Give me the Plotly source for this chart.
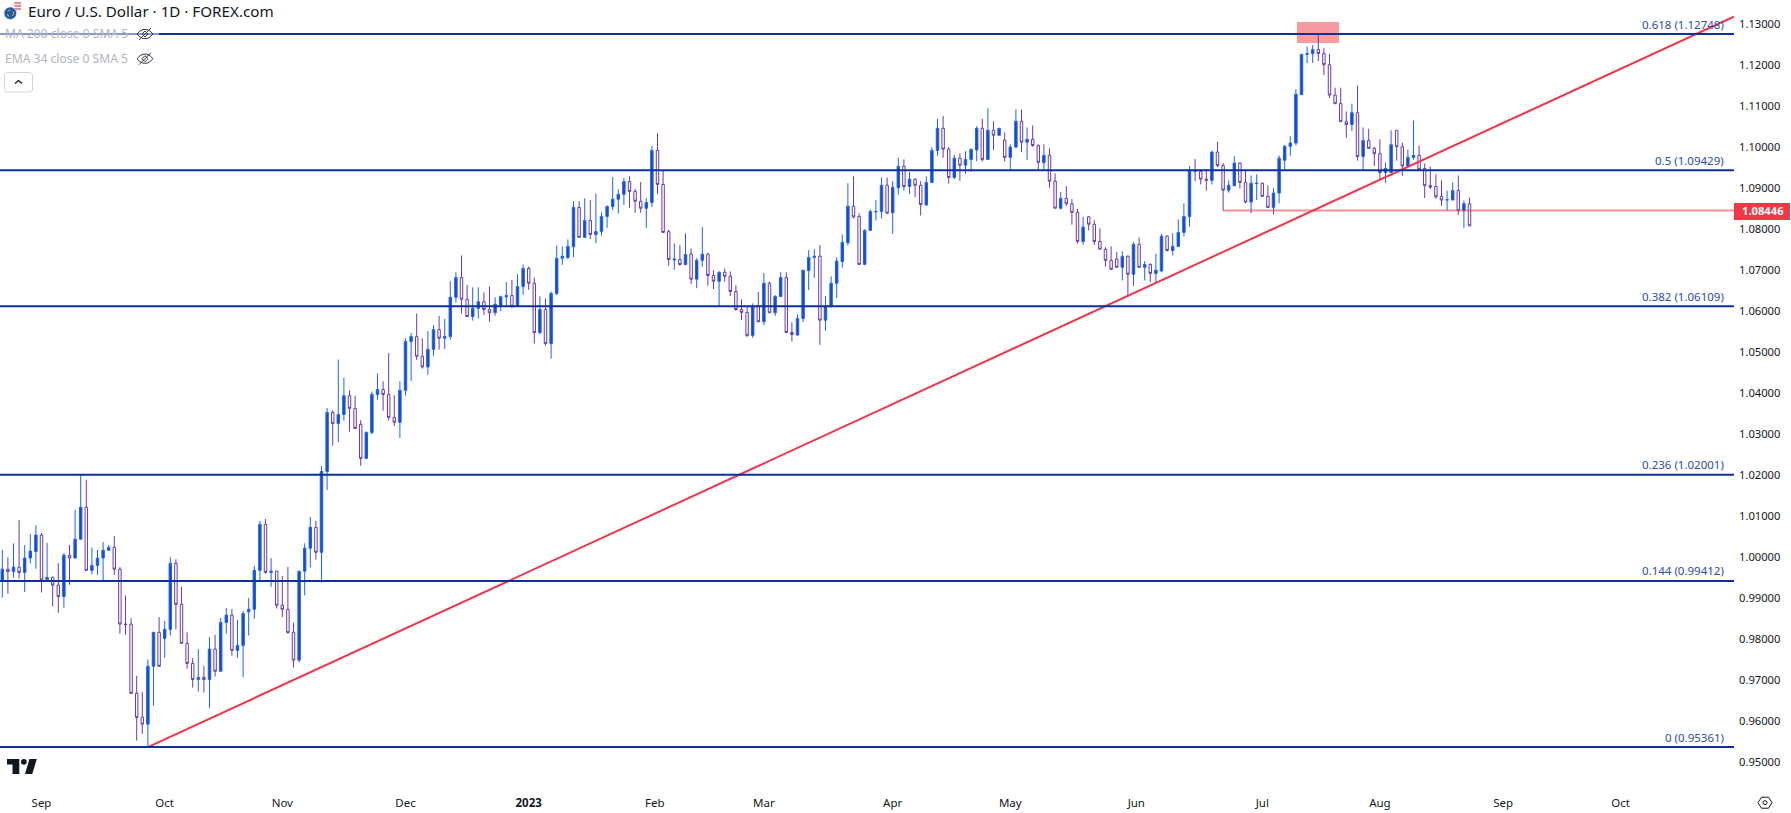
import plotly.graph_objects as go

W, H = 1791, 813
PLOT_RIGHT, PLOT_BOTTOM = 1734, 783

open_ = [
 0.9941,0.9970,0.9964,0.9975,0.9962,0.9997,1.0013,1.0053,0.9944,0.9950,
 0.9931,0.9903,1.0004,0.9997,1.0043,1.0121,0.9967,0.9979,0.9997,1.0016,
 1.0023,0.9970,0.9836,0.9836,0.9667,0.9609,0.9592,0.9733,0.9816,0.9801,
 0.9823,0.9984,0.9884,0.9789,0.9740,0.9701,0.9706,0.9701,0.9775,0.9721,
 0.9840,0.9858,0.9772,0.9784,0.9866,0.9872,0.9967,1.0079,0.9962,0.9965,
 0.9882,0.9872,0.9816,0.9748,0.9965,1.0021,1.0072,1.0011,1.0208,1.0352,
 1.0325,1.0347,1.0393,1.0362,1.0323,1.0240,1.0303,1.0396,1.0408,1.0396,
 1.0340,1.0328,1.0406,1.0525,1.0537,1.0489,1.0463,1.0506,1.0554,1.0533,
 1.0537,1.0633,1.0681,1.0628,1.0586,1.0606,1.0622,1.0603,1.0595,1.0611,
 1.0634,1.0637,1.0611,1.0659,1.0703,1.0667,1.0547,1.0603,1.0520,1.0642,
 1.0728,1.0730,1.0756,1.0852,1.0779,1.0820,1.0786,1.0793,1.0830,1.0854,
 1.0872,1.0884,1.0915,1.0891,1.0867,1.0850,1.0864,1.0991,1.0908,1.0793,
 1.0724,1.0725,1.0713,1.0738,1.0677,1.0723,1.0738,1.0686,1.0672,1.0694,
 1.0684,1.0647,1.0603,1.0596,1.0540,1.0611,1.0573,1.0667,1.0595,1.0635,
 1.0681,1.0547,1.0541,1.0581,1.0698,1.0730,1.0733,1.0577,1.0611,1.0667,
 1.0720,1.0766,1.0855,1.0830,1.0713,1.0796,1.0841,1.0842,1.0906,1.0839,
 1.0900,1.0952,1.0903,1.0921,1.0906,1.0858,1.0913,1.0991,1.1045,1.0994,
 1.0925,1.0972,1.0955,1.0969,1.0992,1.1045,1.0969,1.1040,1.1028,1.1016,
 1.0974,1.0999,1.1062,1.1011,1.1018,1.1003,1.0961,1.0979,1.0916,1.0850,
 1.0874,1.0861,1.0840,1.0769,1.0829,1.0811,1.0769,1.0750,1.0723,1.0726,
 1.0706,1.0733,1.0689,1.0762,1.0706,1.0713,1.0691,1.0697,1.0782,1.0747,
 1.0757,1.0791,1.0830,1.0943,1.0940,1.0921,1.0918,1.0987,1.0954,1.0894,
 1.0905,1.0960,1.0913,1.0865,1.0910,1.0911,1.0879,1.0852,1.0887,1.0967,
 1.1001,1.1009,1.1127,1.1225,1.1227,1.1237,1.1227,1.1200,1.1126,1.1105,
 1.1061,1.1054,1.1083,1.0976,1.1015,1.0996,1.0983,1.0937,1.0937,1.1040,
 1.1000,1.0953,1.0974,1.0979,1.0947,1.0905,1.0903,1.0879,1.0870,1.0870,1.0893,1.0844,1.0861,
]
high = [
 1.0017,0.9999,1.0033,1.0090,1.0029,1.0055,1.0077,1.0058,1.0034,0.9952,
 0.9985,1.0009,1.0029,1.0114,1.0200,1.0188,1.0023,1.0017,1.0036,1.0029,
 1.0051,0.9975,0.9906,0.9850,0.9710,0.9670,0.9750,0.9816,0.9853,0.9844,
 0.9999,0.9994,0.9927,0.9816,0.9753,0.9775,0.9734,0.9804,0.9810,0.9851,
 0.9875,0.9873,0.9846,0.9868,0.9900,0.9978,1.0087,1.0092,0.9997,0.9965,
 0.9953,0.9975,0.9839,0.9965,1.0033,1.0097,1.0088,1.0221,1.0363,1.0357,
 1.0481,1.0437,1.0406,1.0393,1.0333,1.0306,1.0403,1.0447,1.0428,1.0497,
 1.0394,1.0428,1.0533,1.0546,1.0593,1.0533,1.0550,1.0565,1.0587,1.0580,
 1.0672,1.0694,1.0735,1.0663,1.0657,1.0657,1.0645,1.0659,1.0633,1.0637,
 1.0670,1.0675,1.0689,1.0713,1.0708,1.0681,1.0635,1.0630,1.0647,1.0759,
 1.0757,1.0774,1.0867,1.0867,1.0874,1.0870,1.0886,1.0840,1.0857,1.0926,
 1.0896,1.0924,1.0928,1.0898,1.0914,1.0874,1.1002,1.1033,1.0943,1.0798,
 1.0764,1.0760,1.0789,1.0752,1.0728,1.0804,1.0742,1.0699,1.0696,1.0703,
 1.0696,1.0662,1.0628,1.0612,1.0618,1.0646,1.0692,1.0672,1.0638,1.0694,
 1.0694,1.0572,1.0591,1.0699,1.0748,1.0750,1.0760,1.0636,1.0684,1.0730,
 1.0786,1.0911,1.0928,1.0838,1.0799,1.0847,1.0870,1.0925,1.0925,1.0916,
 1.0973,1.0969,1.0938,1.0923,1.0916,1.0928,1.0999,1.1068,1.1075,1.0999,
 1.0981,1.0984,1.0989,1.0994,1.1050,1.1068,1.1094,1.1062,1.1045,1.1035,
 1.1006,1.1091,1.1091,1.1047,1.1052,1.1006,1.1006,1.0996,1.0935,1.0890,
 1.0904,1.0872,1.0848,1.0829,1.0831,1.0821,1.0801,1.0755,1.0757,1.0743,
 1.0745,1.0735,1.0767,1.0779,1.0721,1.0716,1.0739,1.0787,1.0784,1.0789,
 1.0823,1.0862,1.0953,1.0970,1.0945,1.0945,1.0990,1.1012,1.0960,1.0918,
 1.0977,1.0962,1.0943,1.0930,1.0933,1.0913,1.0906,1.0899,1.0979,1.1004,
 1.1026,1.1140,1.1227,1.1244,1.1248,1.1274,1.1240,1.1227,1.1144,1.1144,
 1.1086,1.1105,1.1149,1.1047,1.1044,1.1000,1.1018,1.0961,1.1040,1.1040,
 1.1010,1.0993,1.1064,1.1003,1.0959,1.0952,1.0933,1.0918,1.0893,1.0913,1.0930,1.0869,1.0876,
]
low = [
 0.9901,0.9910,0.9949,0.9947,0.9914,0.9984,0.9971,0.9913,0.9941,0.9879,
 0.9863,0.9876,0.9932,0.9997,1.0043,0.9967,0.9957,0.9956,0.9941,1.0016,
 0.9956,0.9813,0.9810,0.9667,0.9552,0.9568,0.9536,0.9637,0.9733,0.9754,
 0.9808,0.9823,0.9789,0.9727,0.9681,0.9671,0.9669,0.9632,0.9708,0.9721,
 0.9813,0.9759,0.9754,0.9706,0.9808,0.9849,0.9941,0.9959,0.9927,0.9874,
 0.9853,0.9813,0.9730,0.9743,0.9906,0.9974,0.9993,0.9937,1.0163,1.0271,
 1.0280,1.0332,1.0305,1.0313,1.0222,1.0240,1.0298,1.0383,1.0356,1.0332,
 1.0319,1.0290,1.0393,1.0429,1.0480,1.0459,1.0444,1.0490,1.0505,1.0507,
 1.0529,1.0620,1.0593,1.0586,1.0576,1.0581,1.0590,1.0573,1.0588,1.0599,
 1.0611,1.0607,1.0611,1.0639,1.0651,1.0520,1.0542,1.0515,1.0483,1.0638,
 1.0712,1.0726,1.0731,1.0779,1.0779,1.0775,1.0765,1.0783,1.0802,1.0845,
 1.0837,1.0858,1.0851,1.0839,1.0839,1.0802,1.0853,1.0885,1.0791,1.0710,
 1.0700,1.0710,1.0711,1.0665,1.0655,1.0707,1.0661,1.0653,1.0612,1.0671,
 1.0636,1.0600,1.0577,1.0536,1.0534,1.0573,1.0565,1.0595,1.0587,1.0633,
 1.0547,1.0525,1.0539,1.0572,1.0650,1.0680,1.0517,1.0551,1.0608,1.0631,
 1.0705,1.0759,1.0825,1.0713,1.0713,1.0796,1.0820,1.0825,1.0836,1.0788,
 1.0883,1.0893,1.0885,1.0877,1.0832,1.0856,1.0912,1.0978,1.0973,1.0910,
 1.0921,1.0917,1.0934,1.0939,1.0965,1.0964,1.0969,1.0992,1.1027,1.0964,
 1.0943,1.0999,1.0987,1.0968,1.1000,1.0942,1.0943,1.0900,1.0850,1.0847,
 1.0856,1.0810,1.0764,1.0761,1.0796,1.0761,1.0750,1.0708,1.0701,1.0706,
 1.0674,1.0635,1.0661,1.0706,1.0674,1.0670,1.0667,1.0694,1.0745,1.0735,
 1.0756,1.0781,1.0805,1.0916,1.0908,1.0893,1.0908,1.0950,1.0844,1.0888,
 1.0903,1.0898,1.0862,1.0838,1.0870,1.0878,1.0851,1.0835,1.0862,1.0943,
 1.0978,1.1003,1.1127,1.1204,1.1204,1.1209,1.1175,1.1119,1.1105,1.1061,
 1.1022,1.1038,1.0966,1.0942,1.0996,1.0953,1.0918,1.0912,1.0937,1.0966,
 1.0929,1.0949,1.0968,1.0944,1.0875,1.0897,1.0873,1.0856,1.0844,1.0870,1.0834,1.0802,1.0807,
]
close = [
 0.9970,0.9964,0.9975,0.9962,0.9997,1.0014,1.0053,0.9944,0.9950,0.9931,
 0.9903,1.0004,0.9997,1.0043,1.0121,0.9967,0.9979,0.9997,1.0016,1.0023,
 0.9970,0.9836,0.9835,0.9667,0.9608,0.9592,0.9733,0.9816,0.9733,0.9823,
 0.9984,0.9884,0.9789,0.9740,0.9701,0.9706,0.9701,0.9775,0.9721,0.9840,
 0.9858,0.9772,0.9784,0.9862,0.9872,0.9967,1.0079,0.9962,0.9965,0.9882,
 0.9872,0.9815,0.9748,0.9965,1.0021,1.0072,1.0011,1.0208,1.0352,1.0325,
 1.0347,1.0393,1.0362,1.0313,1.0240,1.0303,1.0396,1.0408,1.0396,1.0340,
 1.0328,1.0406,1.0525,1.0537,1.0489,1.0463,1.0506,1.0554,1.0533,1.0537,
 1.0633,1.0681,1.0628,1.0586,1.0606,1.0622,1.0603,1.0595,1.0616,1.0634,
 1.0637,1.0611,1.0659,1.0703,1.0667,1.0547,1.0603,1.0520,1.0642,1.0728,
 1.0733,1.0757,1.0852,1.0779,1.0820,1.0786,1.0793,1.0830,1.0854,1.0872,
 1.0884,1.0915,1.0891,1.0867,1.0850,1.0864,1.0991,1.0908,1.0791,1.0725,
 1.0726,1.0713,1.0737,1.0677,1.0723,1.0738,1.0686,1.0672,1.0694,1.0684,
 1.0647,1.0603,1.0596,1.0540,1.0611,1.0573,1.0667,1.0595,1.0635,1.0681,
 1.0547,1.0542,1.0581,1.0699,1.0730,1.0733,1.0577,1.0611,1.0667,1.0721,
 1.0767,1.0855,1.0829,1.0713,1.0796,1.0842,1.0842,1.0906,1.0838,1.0901,
 1.0952,1.0903,1.0921,1.0906,1.0859,1.0913,1.0991,1.1045,1.0994,1.0925,
 1.0972,1.0955,1.0969,1.0994,1.1045,1.0969,1.1040,1.1028,1.1045,1.0974,
 1.0999,1.1062,1.1011,1.1018,1.1003,1.0962,1.0979,1.0916,1.0850,1.0874,
 1.0861,1.0840,1.0769,1.0804,1.0811,1.0769,1.0750,1.0723,1.0701,1.0706,
 1.0733,1.0689,1.0762,1.0706,1.0713,1.0691,1.0699,1.0782,1.0747,1.0757,
 1.0791,1.0830,1.0943,1.0940,1.0921,1.0918,1.0987,1.0954,1.0894,1.0906,
 1.0960,1.0913,1.0865,1.0911,1.0911,1.0879,1.0852,1.0887,1.0972,1.1001,
 1.1009,1.1128,1.1225,1.1227,1.1237,1.1227,1.1200,1.1126,1.1105,1.1061,
 1.1054,1.1083,1.0976,1.1015,1.0996,1.0983,1.0937,1.0947,1.1005,1.1000,
 1.0953,1.0974,1.0979,1.0944,1.0905,1.0902,1.0878,1.0870,1.0871,1.0893,1.0844,1.0861,1.0807,
]
assert len(open_) == len(high) == len(low) == len(close) == 263
bar_index = list(range(len(open_)))

fib_levels = [0.95361, 0.99412, 1.02001, 1.06109, 1.09429, 1.12748]
fib_labels = ["0", "0.144", "0.236", "0.382", "0.5", "0.618"]
price_ticks = [0.95 + 0.01 * i for i in range(19)]
month_positions = [7, 29, 50, 72, 94, 116.5, 136, 159, 180, 202.5, 225, 246, 268, 289]
month_labels = ["Sep", "Oct", "Nov", "Dec", "<b>2023</b>", "Feb", "Mar", "Apr", "May", "Jun", "Jul", "Aug", "Sep", "Oct"]

trend_x = [26, 309.2]
trend_y = [0.95361, 1.1317]
last_price = 1.08446
support_start_bar = 218
high_box_bars = [231.2, 238.7]
high_box_prices = [1.1253, 1.1304]

BAR_STEP = 5.6
BAR0_PX = 2.3
x_range = [-BAR0_PX / BAR_STEP, (PLOT_RIGHT - BAR0_PX) / BAR_STEP]
PX_PER_UNIT = 4101
Y_113 = 23.7
y_range = [1.13 - (PLOT_BOTTOM - Y_113) / PX_PER_UNIT, 1.13 + Y_113 / PX_PER_UNIT]

FONT = "Noto Sans"
FIB_BLUE = "#0c3299"
RED = "#f23645"


def px(x):
    return x / W


def py(y):
    return 1 - y / H


def path(points, close_it=False):
    s = "M " + " L ".join(f"{px(a):.5f},{py(b):.5f}" for a, b in points)
    return s + (" Z" if close_it else "")


fig = go.Figure()
fig.add_trace(go.Candlestick(
    x=bar_index, open=open_, high=high, low=low, close=close,
    increasing=dict(line=dict(color="#1e62ff", width=1), fillcolor="#1a48b4"),
    decreasing=dict(line=dict(color="#673ab7", width=1), fillcolor="#ffffff"),
    whiskerwidth=0, showlegend=False, hoverinfo="skip",
))
fig.add_trace(go.Scatter(
    x=[support_start_bar, x_range[1]], y=[last_price, last_price], mode="lines",
    line=dict(color="rgba(242,54,69,0.55)", width=2), showlegend=False, hoverinfo="skip",
))
fig.add_trace(go.Scatter(
    x=trend_x, y=trend_y, mode="lines",
    line=dict(color=RED, width=2), showlegend=False, hoverinfo="skip",
))

shapes = []
annotations = []

shapes.append(dict(type="rect", xref="x", yref="y", x0=high_box_bars[0], x1=high_box_bars[1],
                   y0=high_box_prices[0], y1=high_box_prices[1], layer="below",
                   fillcolor="rgba(242,54,69,0.5)", line=dict(width=0)))

for level, name in zip(fib_levels, fib_labels):
    shapes.append(dict(type="line", xref="x domain", yref="y", x0=0, x1=1, y0=level, y1=level,
                       layer="above", line=dict(color=FIB_BLUE, width=2)))
    annotations.append(dict(xref="paper", yref="y", x=px(1726), y=level, yshift=10,
                            xanchor="right", yanchor="middle", showarrow=False,
                            text=f"{name} ({level:.5f})",
                            font=dict(family=FONT, size=11.5, color="#2e4cab")))

# last price label on the price axis
shapes.append(dict(type="rect", xref="paper", yref="paper", x0=px(1734), x1=px(1790), y0=py(220), y1=py(203),
                   fillcolor=RED, line=dict(width=0), layer="above"))
annotations.append(dict(xref="paper", yref="y", x=px(1763), y=last_price, xanchor="center", yanchor="middle",
                        showarrow=False, text=f"<b>{last_price:.5f}</b>",
                        font=dict(family=FONT, size=11.2, color="#ffffff")))

# header
annotations.append(dict(xref="paper", yref="paper", x=px(25.5), y=py(11), xanchor="left", yanchor="middle",
                        showarrow=False, text="Euro / U.S. Dollar · 1D · FOREX.com",
                        font=dict(family=FONT, size=15.2, color="#131722")))
# veil over the top fib line behind the legend
shapes.append(dict(type="rect", xref="paper", yref="paper", x0=0, x1=px(159), y0=py(42), y1=py(26),
                   fillcolor="rgba(255,255,255,0.5)", line=dict(width=0), layer="above"))
for row_y, text in [(34, "MA 200 close 0 SMA 5"), (58.7, "EMA 34 close 0 SMA 5")]:
    annotations.append(dict(xref="paper", yref="paper", x=px(2.5), y=py(row_y), xanchor="left", yanchor="middle",
                            showarrow=False, text=text, font=dict(family=FONT, size=12.1, color="#b2b5be")))
    # eye icon
    cx = 145
    shapes.append(dict(type="path", xref="paper", yref="paper", layer="above",
                       path=path([(cx - 8, row_y), (cx - 5, row_y - 3), (cx - 2, row_y - 4.5), (cx + 2, row_y - 4.5),
                                  (cx + 5, row_y - 3), (cx + 8, row_y), (cx + 5, row_y + 3), (cx + 2, row_y + 4.5),
                                  (cx - 2, row_y + 4.5), (cx - 5, row_y + 3)], True),
                       fillcolor="rgba(0,0,0,0)", line=dict(color="#363a45", width=1)))
    shapes.append(dict(type="path", xref="paper", yref="paper", layer="above",
                       path=path([(cx - 6, row_y + 6), (cx + 6, row_y - 6)]),
                       line=dict(color="#363a45", width=1)))
    shapes.append(dict(type="path", xref="paper", yref="paper", layer="above",
                       path=path([(cx - 3, row_y), (cx, row_y - 3), (cx + 3, row_y), (cx, row_y + 3)], True),
                       fillcolor="rgba(0,0,0,0)", line=dict(color="#363a45", width=1)))

# collapse button
shapes.append(dict(type="path", xref="paper", yref="paper", layer="above",
                   path=path([(6.5, 72.5), (30.5, 72.5), (32.5, 74.5), (32.5, 90), (30.5, 92), (6.5, 92), (4.5, 90), (4.5, 74.5)], True),
                   fillcolor="#ffffff", line=dict(color="#d1d4dc", width=1)))
shapes.append(dict(type="path", xref="paper", yref="paper", layer="above",
                   path=path([(15, 83.5), (18.5, 80.5), (22, 83.5)]),
                   line=dict(color="#131722", width=1.3)))

# currency flag icon
shapes.append(dict(type="circle", xref="paper", yref="paper", layer="above", x0=px(10), x1=px(22), y0=py(12.5), y1=py(1),
                   fillcolor="#f4f4f6", line=dict(width=0)))
for sy in (3, 6, 9):
    shapes.append(dict(type="path", xref="paper", yref="paper", layer="above",
                       path=path([(14.5, sy), (21, sy)]), line=dict(color="#e0444f", width=1.2)))
shapes.append(dict(type="circle", xref="paper", yref="paper", layer="above", x0=px(4), x1=px(16.5), y0=py(19.5), y1=py(7),
                   fillcolor="#1e5aa8", line=dict(color="#ffffff", width=0.5)))
shapes.append(dict(type="circle", xref="paper", yref="paper", layer="above", x0=px(7), x1=px(13.5), y0=py(16.5), y1=py(10),
                   fillcolor="rgba(0,0,0,0)", line=dict(color="#f2c230", width=1, dash="dot")))

# TradingView mark
LOGO = "#131722"
shapes.append(dict(type="path", xref="paper", yref="paper", layer="above",
                   path=path([(7, 759), (19.3, 759), (19.3, 774), (12.5, 774), (12.5, 764.6), (7, 764.6)], True),
                   fillcolor=LOGO, line=dict(width=0)))
shapes.append(dict(type="circle", xref="paper", yref="paper", layer="above", x0=px(21), x1=px(26.7), y0=py(764.8), y1=py(759.1),
                   fillcolor=LOGO, line=dict(width=0)))
shapes.append(dict(type="path", xref="paper", yref="paper", layer="above",
                   path=path([(29.4, 759), (36.8, 759), (32.2, 774), (25, 774)], True),
                   fillcolor=LOGO, line=dict(width=0)))

# settings icon
gx, gy = 1765, 802.7
shapes.append(dict(type="path", xref="paper", yref="paper", layer="above",
                   path=path([(gx - 7, gy), (gx - 3.5, gy - 5.5), (gx + 3.5, gy - 5.5), (gx + 7, gy), (gx + 3.5, gy + 5.5), (gx - 3.5, gy + 5.5)], True),
                   fillcolor="rgba(0,0,0,0)", line=dict(color="#131722", width=1)))
shapes.append(dict(type="circle", xref="paper", yref="paper", layer="above", x0=px(gx - 2), x1=px(gx + 2), y0=py(gy + 2), y1=py(gy - 2),
                   fillcolor="rgba(0,0,0,0)", line=dict(color="#131722", width=1)))

fig.update_layout(
    width=W, height=H, margin=dict(l=0, r=0, t=0, b=0, pad=0, autoexpand=False),
    paper_bgcolor="#ffffff", plot_bgcolor="#ffffff", boxgap=0.38,
    showlegend=False, shapes=shapes, annotations=annotations, hovermode=False,
    xaxis=dict(domain=[0, PLOT_RIGHT / W], range=x_range, rangeslider=dict(visible=False),
               showgrid=False, zeroline=False, showline=False, ticks="",
               tickmode="array", tickvals=month_positions, ticktext=month_labels,
               ticklabelstandoff=11, tickangle=0,
               tickfont=dict(family=FONT, size=11.5, color="#131722")),
    yaxis=dict(domain=[1 - PLOT_BOTTOM / H, 1], range=y_range, side="right",
               showgrid=False, zeroline=False, showline=False, ticks="",
               tickmode="array", tickvals=price_ticks, ticktext=[f"{v:.5f}" for v in price_ticks],
               ticklabelstandoff=4,
               tickfont=dict(family=FONT, size=11.2, color="#131722")),
)

fig.write_html("out.html", config={"displayModeBar": False},
               post_script="document.body.style.margin='0';document.body.style.overflow='hidden';")
